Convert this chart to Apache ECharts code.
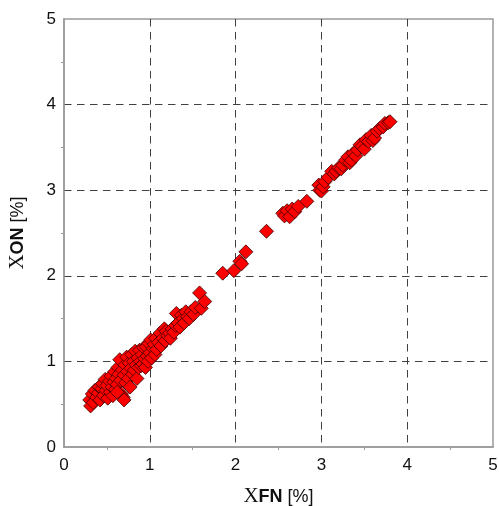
<!DOCTYPE html>
<html>
<head>
<meta charset="utf-8">
<script src="https://cdn.jsdelivr.net/npm/echarts@6/dist/echarts.min.js"></script>
<style>
  html, body { margin: 0; padding: 0; background: #fff; }
  #chart { width: 499px; height: 506px; }
</style>
</head>
<body>
<div id="chart"></div>
<script>
// Measured FN vs ON conversion, percent
const xTicks = [0, 1, 2, 3, 4, 5];
const yTicks = [0, 1, 2, 3, 4, 5];

// low-conversion cluster
const fnLow = [
  0.30, 0.31, 0.33, 0.34, 0.36, 0.38, 0.40, 0.41, 0.42, 0.44,
  0.45, 0.46, 0.48, 0.49, 0.50, 0.51, 0.53, 0.54, 0.55, 0.56,
  0.57, 0.58, 0.59, 0.60, 0.61, 0.62, 0.63, 0.64, 0.65, 0.66,
  0.67, 0.68, 0.69, 0.70, 0.71, 0.72, 0.73, 0.74, 0.75, 0.76,
  0.77, 0.78, 0.79, 0.80, 0.81, 0.82, 0.83, 0.84, 0.85, 0.86,
  0.87, 0.88, 0.89, 0.90, 0.91, 0.92, 0.93, 0.94, 0.95, 0.96,
  0.97, 0.98, 0.99, 1.00, 1.01, 1.02, 1.04, 1.05, 1.06, 1.07,
  1.08, 1.10, 1.12, 1.13, 1.15, 1.17, 1.18, 1.19, 1.21, 1.23,
  1.24, 1.26, 1.28, 1.30, 1.31, 1.33, 1.35, 1.37, 1.39, 1.40,
  1.42, 1.44, 1.46, 1.48, 1.51, 1.53, 1.58, 1.60, 1.64, 0.70,
  0.62
];
const onLow = [
  0.55, 0.48, 0.62, 0.52, 0.66, 0.58, 0.63, 0.70, 0.55, 0.68,
  0.74, 0.60, 0.79, 0.66, 0.72, 0.57, 0.77, 0.64, 0.83, 0.70,
  0.60, 0.76, 0.88, 0.67, 0.80, 0.73, 0.93, 0.85, 1.02, 0.78,
  0.62, 0.90, 0.58, 0.84, 0.96, 0.75, 1.05, 0.88, 0.80, 0.98,
  0.70, 0.92, 1.08, 0.85, 1.00, 0.90, 1.12, 0.96, 0.80, 1.04,
  0.93, 1.13, 1.00, 0.95, 1.08, 0.97, 1.16, 1.03, 0.93, 1.17,
  1.06, 1.00, 1.21, 1.10, 1.25, 1.04, 1.15, 1.20, 1.08, 1.27,
  1.14, 1.22, 1.33, 1.18, 1.27, 1.38, 1.24, 1.35, 1.30, 1.33,
  1.27, 1.38, 1.34, 1.42, 1.56, 1.45, 1.40, 1.54, 1.50, 1.45,
  1.58, 1.52, 1.50, 1.58, 1.55, 1.63, 1.80, 1.62, 1.70, 0.55,
  0.64
];

// intermediate points
const fnMid = [1.85, 1.98, 2.05, 2.07, 2.12, 2.36];
const onMid = [2.03, 2.06, 2.17, 2.14, 2.28, 2.52];

// high-conversion cluster
const fnHigh = [
  2.55, 2.57, 2.60, 2.63, 2.66, 2.69, 2.73, 2.83, 2.97, 2.98,
  3.00, 3.02, 3.04, 3.08, 3.12, 3.15, 3.17, 3.20, 3.23, 3.25,
  3.28, 3.31, 3.33, 3.35, 3.37, 3.40, 3.42, 3.45, 3.47, 3.50,
  3.52, 3.55, 3.58, 3.60, 3.62, 3.65, 3.68, 3.72, 3.74, 3.78,
  3.80
];
const onHigh = [
  2.73, 2.70, 2.76, 2.69, 2.78, 2.75, 2.81, 2.87, 3.06, 3.00,
  2.99, 3.04, 3.10, 3.15, 3.22, 3.19, 3.22, 3.26, 3.25, 3.29,
  3.35, 3.39, 3.32, 3.35, 3.43, 3.40, 3.47, 3.53, 3.51, 3.48,
  3.59, 3.57, 3.64, 3.58, 3.61, 3.69, 3.72, 3.74, 3.78, 3.79,
  3.80
];

const fn = fnLow.concat(fnMid, fnHigh);
const on = onLow.concat(onMid, onHigh);
const points = fn.map((v, i) => [v, on[i]]);

const axisGray = '#9a9a9a';
const gridDark = '#404040';
const tickFont = { fontFamily: 'Liberation Sans', fontSize: 17, color: '#111' };

function axisName(sub) {
  return {
    name: '{chi|Χ}{sub|' + sub + '}{sp| }{unit|[%]}',
    nameLocation: 'middle',
    nameTextStyle: {
      rich: {
        chi: { fontFamily: 'Liberation Serif', fontSize: 21, color: '#111', padding: [0, 0, 2, 0] },
        sub: { fontFamily: 'Liberation Sans', fontSize: 18, fontWeight: 'bold', color: '#111' },
        sp: { fontFamily: 'Liberation Sans', fontSize: 18 },
        unit: { fontFamily: 'Liberation Sans', fontSize: 18, color: '#111' }
      }
    }
  };
}

function valueAxis(sub, gap, labelMargin) {
  return Object.assign(axisName(sub), {
    type: 'value',
    min: 0,
    max: 5,
    interval: 1,
    nameGap: gap,
    axisLine: { show: true, lineStyle: { color: axisGray, width: 1.5 } },
    axisTick: { show: false },
    minorTick: { show: true, splitNumber: 2, length: 3, lineStyle: { color: axisGray, width: 1 } },
    axisLabel: Object.assign({ margin: labelMargin }, tickFont),
    splitLine: {
      show: true,
      showMinLine: false,
      showMaxLine: false,
      lineStyle: { color: gridDark, width: 1, type: [7.5, 5.5] }
    }
  });
}

const chart = echarts.init(document.getElementById('chart'), null, { renderer: 'canvas' });
chart.setOption({
  animation: false,
  backgroundColor: '#fff',
  grid: {
    left: 64, right: 6, top: 19, bottom: 59,
    show: true,
    borderColor: axisGray,
    borderWidth: 1.5,
    outerBoundsMode: 'none'
  },
  xAxis: valueAxis('FN', 39, 10),
  yAxis: valueAxis('ON', 34, 8),
  series: [{
    type: 'scatter',
    data: points,
    symbol: 'diamond',
    symbolSize: 14,
    itemStyle: { color: '#ff0000', borderColor: '#3a0000', borderWidth: 0.8, opacity: 1 }
  }]
});
</script>
</body>
</html>
